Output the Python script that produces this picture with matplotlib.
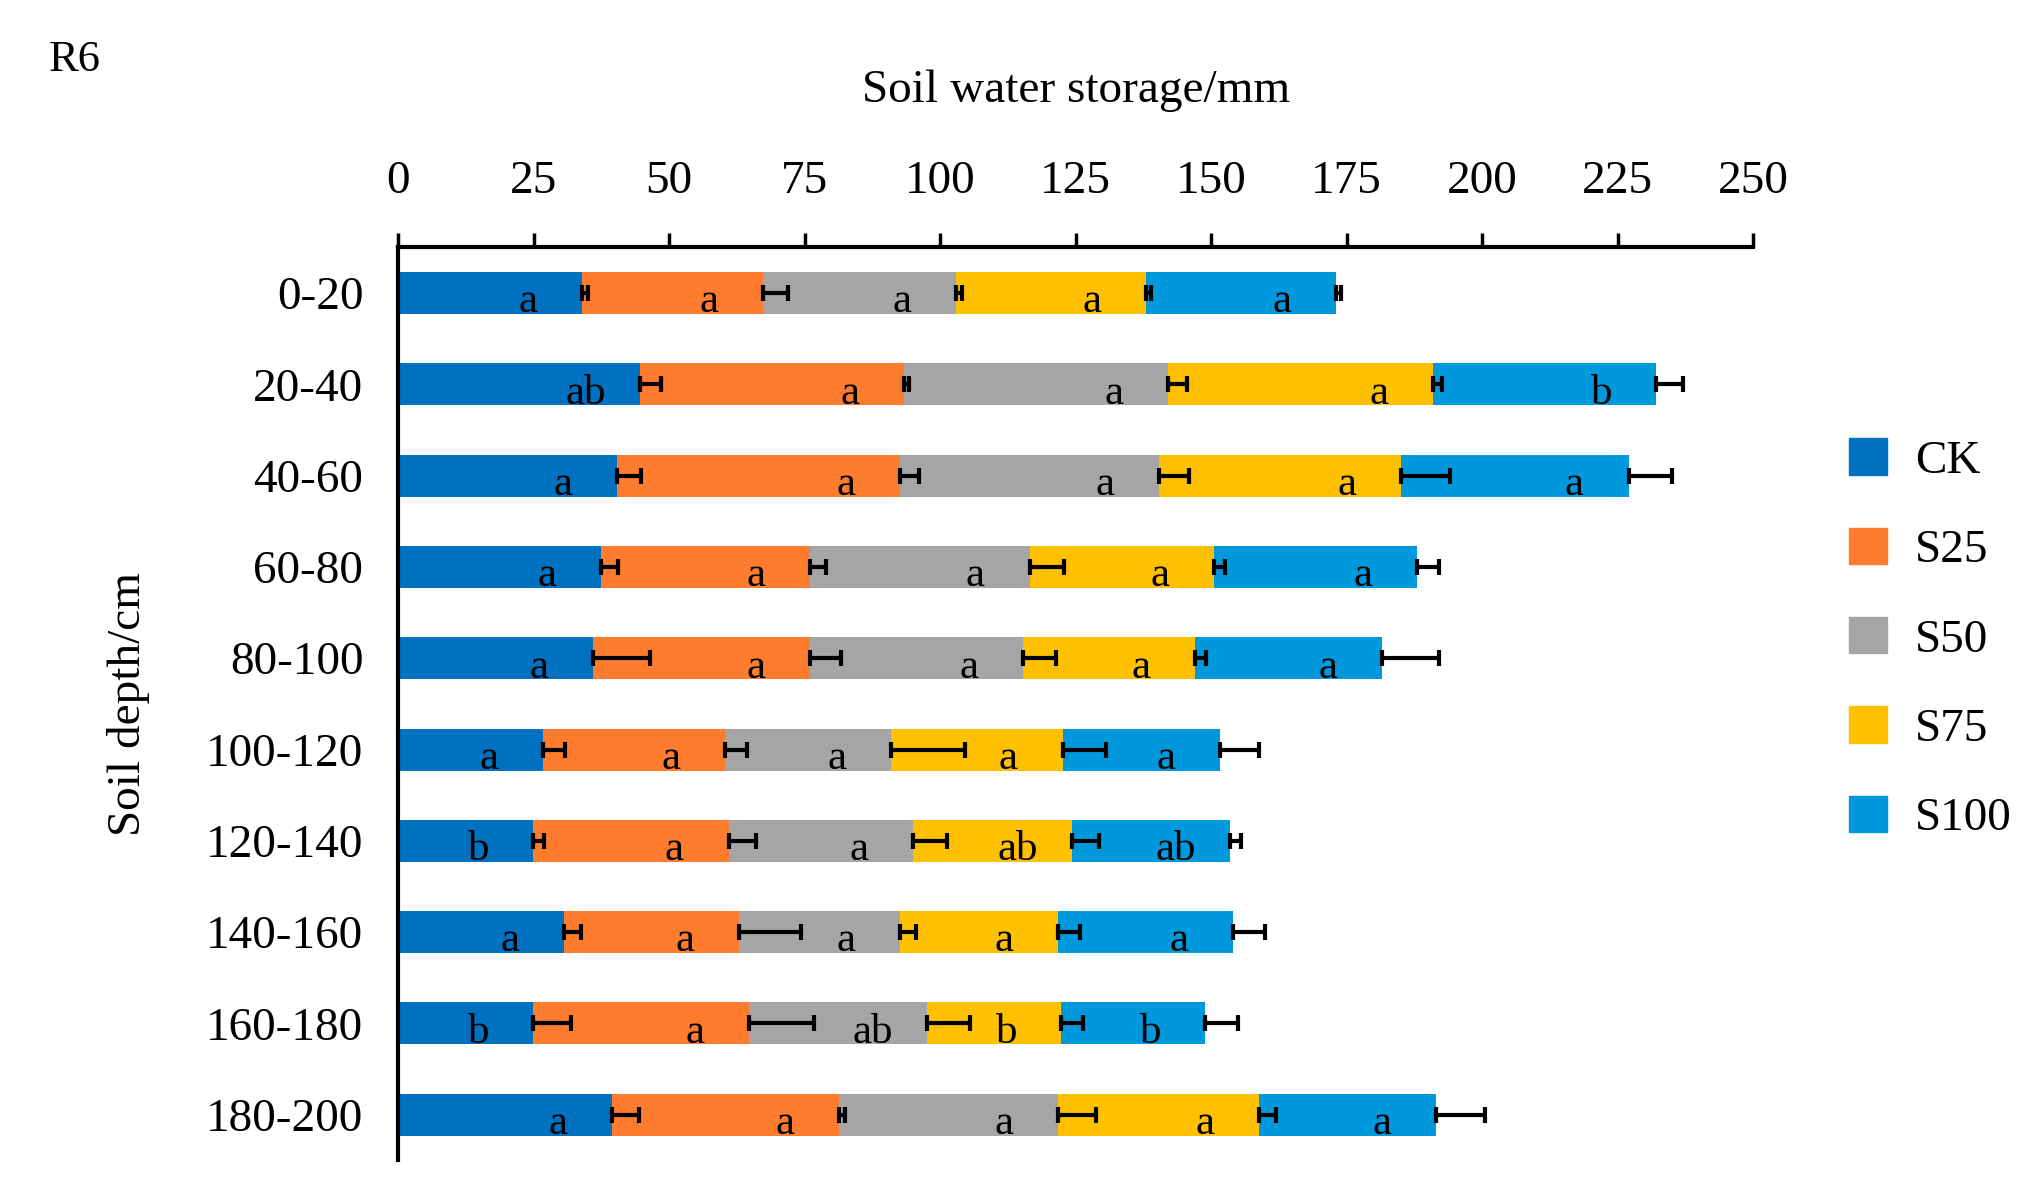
import numpy as np
import matplotlib.pyplot as plt
from matplotlib.patches import Patch

plt.rcParams['font.family'] = ['Liberation Serif', 'DejaVu Serif']

depths = ["0-20", "20-40", "40-60", "60-80", "80-100", "100-120",
          "120-140", "140-160", "160-180", "180-200"]
treatments = ["CK", "S25", "S50", "S75", "S100"]
colors = ["#0070C0", "#FF7C2E", "#A5A5A5", "#FFC000", "#0098DC"]

# segment values (mm) per treatment, one per depth
ck   = [33.9, 44.6, 40.4, 37.5, 36.0, 26.8, 24.9, 30.7, 24.9, 39.5]
s25  = [33.4, 48.7, 52.2, 38.5, 40.0, 33.6, 36.1, 32.2, 39.9, 41.9]
s50  = [35.7, 48.7, 47.8, 40.5, 39.3, 30.6, 34.0, 29.7, 32.7, 40.4]
s75  = [35.0, 49.0, 44.6, 34.1, 31.7, 31.6, 29.3, 29.2, 24.8, 37.1]
s100 = [35.0, 41.0, 42.0, 37.4, 34.5, 29.0, 29.2, 32.2, 26.6, 32.6]

err_ck   = [1.2, 4.0, 4.4, 3.0, 10.5, 4.0, 2.0, 3.0, 7.0, 5.0]
err_s25  = [4.6, 1.0, 3.6, 3.0, 5.8, 4.0, 5.0, 11.5, 12.0, 1.0]
err_s50  = [1.0, 3.6, 5.6, 6.3, 6.0, 13.6, 6.3, 3.0, 8.0, 7.0]
err_s75  = [1.0, 1.5, 9.0, 2.0, 2.0, 8.0, 5.0, 4.0, 4.0, 3.0]
err_s100 = [1.0, 5.0, 8.0, 4.0, 10.5, 7.3, 2.0, 6.0, 6.0, 9.0]

letters = [
    ["a", "ab", "a", "a", "a", "a", "b", "a", "b", "a"],
    ["a", "a", "a", "a", "a", "a", "a", "a", "a", "a"],
    ["a", "a", "a", "a", "a", "a", "a", "a", "ab", "a"],
    ["a", "a", "a", "a", "a", "a", "ab", "a", "b", "a"],
    ["a", "b", "a", "a", "a", "a", "ab", "a", "b", "a"],
]

series = [ck, s25, s50, s75, s100]
errs = [err_ck, err_s25, err_s50, err_s75, err_s100]

fig = plt.figure(figsize=(20.41, 11.84), dpi=100)
ax = fig.add_axes([0.195, 0.02, 0.664, 0.771])

y = np.arange(len(depths))
left = np.zeros(len(depths))
for vals, er, col, lab, lets in zip(series, errs, colors, treatments, letters):
    vals = np.array(vals)
    ax.barh(y, vals, left=left, height=0.46, color=col, label=lab, zorder=2)
    ends = left + vals
    ax.errorbar(ends, y, xerr=[np.zeros_like(vals), er], fmt="none",
                ecolor="black", elinewidth=3, capsize=6, capthick=3, zorder=3)
    for yi, xe, t in zip(y, ends, lets):
        ax.text(xe - 10, yi + 0.1, t, ha="center", va="center", fontsize=31, zorder=4)
    left = ends

ax.set_xlim(0, 250)
ax.set_ylim(9.5, -0.5)
ax.xaxis.tick_top()
ax.xaxis.set_label_position("top")
ax.set_xticks(np.arange(0, 251, 25))
ax.set_yticks(y)
ax.set_yticklabels(depths)
ax.tick_params(axis="x", labelsize=34, length=10, width=2.5, pad=22, direction="out")
ax.tick_params(axis="y", labelsize=34, length=0, pad=25)
for s in ["right", "bottom"]:
    ax.spines[s].set_visible(False)
ax.spines["top"].set_linewidth(3)
ax.spines["left"].set_linewidth(3)
ax.set_xlabel("Soil water storage/mm", fontsize=34, labelpad=42)
ax.set_ylabel("Soil depth/cm", fontsize=34, labelpad=40)

handles = [Patch(color=c, label=t) for c, t in zip(colors, treatments)]
fig.legend(handles=handles, loc="center left", bbox_to_anchor=(0.885, 0.46),
           frameon=False, fontsize=34, handlelength=0.8, handleheight=0.8,
           labelspacing=0.95, handletextpad=0.6)

fig.text(0.024, 0.94, "R6", fontsize=32)

fig.savefig("out.png", dpi=100)
